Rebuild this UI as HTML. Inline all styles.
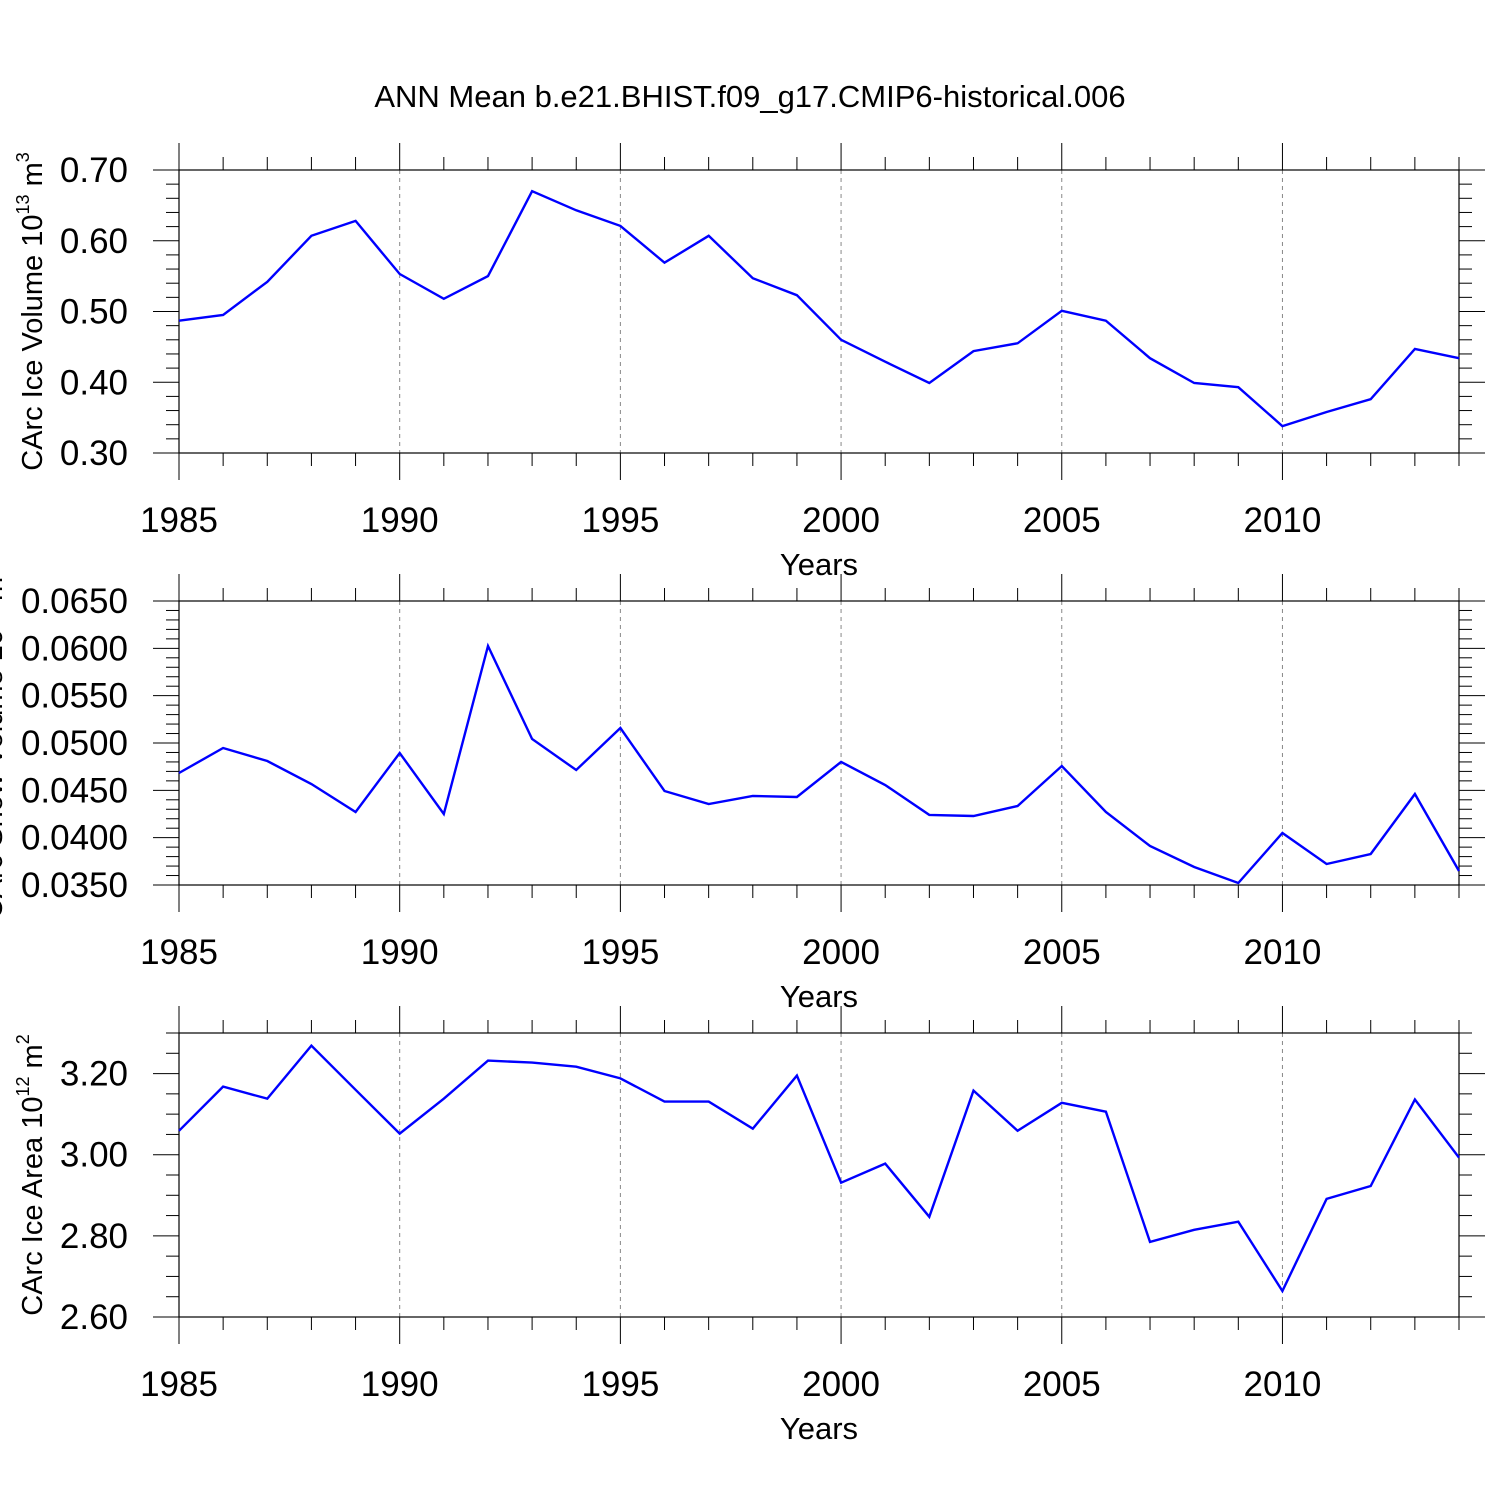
<!DOCTYPE html>
<html><head><meta charset="utf-8"><style>
html,body{margin:0;padding:0;background:#fff;}
svg{display:block;font-family:"Liberation Sans",sans-serif;}
</style></head><body>
<svg id="chart" width="1500" height="1500" viewBox="0 0 1500 1500" xmlns="http://www.w3.org/2000/svg">
<text x="750" y="107" font-size="31" text-anchor="middle">ANN Mean b.e21.BHIST.f09_g17.CMIP6-historical.006</text>
</svg>
<script>
const years = [1985,1986,1987,1988,1989,1990,1991,1992,1993,1994,1995,1996,1997,1998,1999,2000,2001,2002,2003,2004,2005,2006,2007,2008,2009,2010,2011,2012,2013,2014];
const iceVolume = [0.487,0.495,0.542,0.607,0.628,0.553,0.518,0.550,0.670,0.643,0.621,0.569,0.607,0.547,0.523,0.460,0.429,0.399,0.444,0.455,0.501,0.487,0.434,0.399,0.393,0.338,0.358,0.376,0.447,0.434];
const snowVolume = [0.04683,0.04947,0.0481,0.04567,0.04271,0.04894,0.0425,0.06025,0.05042,0.04715,0.05158,0.04493,0.04356,0.0444,0.0443,0.048,0.04556,0.0424,0.04229,0.04334,0.04757,0.04271,0.03912,0.0369,0.03521,0.04049,0.03722,0.03827,0.04461,0.03648];
const iceArea = [3.059,3.168,3.138,3.269,3.160,3.052,3.138,3.232,3.227,3.217,3.188,3.131,3.131,3.064,3.195,2.931,2.978,2.847,3.158,3.059,3.128,3.106,2.785,2.815,2.835,2.664,2.891,2.923,3.136,2.993];
const xTickLabels = [1985,1990,1995,2000,2005,2010];
const volTicks = [0.30,0.40,0.50,0.60,0.70];
const snowTicks = [0.035,0.040,0.045,0.050,0.055,0.060,0.065];
const areaTicks = [2.60,2.80,3.00,3.20];

const NS="http://www.w3.org/2000/svg";
const svg=document.getElementById('chart');
function el(tag,attrs,parent){const e=document.createElementNS(NS,tag);for(const k in attrs)e.setAttribute(k,attrs[k]);(parent||svg).appendChild(e);return e;}
const X0=179,X1=1459;
function xs(yr){return X0+(yr-1985)*(X1-X0)/29;}

const panels=[
 {name:'ice-volume',top:170,bot:453,min:0.30,max:0.70,data:iceVolume,ticks:volTicks,minor:0.02,dec:2,title:'CArc Ice Volume 10',sup:'13',unit:' m',usup:'3',tx:42},
 {name:'snow-volume',top:601,bot:885,min:0.035,max:0.065,data:snowVolume,ticks:snowTicks,minor:0.001,dec:4,title:'CArc Snow Volume 10',sup:'13',unit:' m',usup:'3',tx:2},
 {name:'ice-area',top:1033,bot:1317,min:2.60,max:3.30,data:iceArea,ticks:areaTicks,minor:0.05,dec:2,title:'CArc Ice Area 10',sup:'12',unit:' m',usup:'2',tx:42}
];
panels.forEach(p=>{
 const g=el('g',{});
 
 
 const ys=v=>p.bot-(v-p.min)*(p.bot-p.top)/(p.max-p.min);
 xTickLabels.forEach(yr=>{ if(yr>1985){const l=el('line',{x1:xs(yr),x2:xs(yr),y1:p.top,y2:p.bot,stroke:'#888','stroke-width':1,'stroke-dasharray':'4,4'},g);
  
  }});
 for(let yr=1985;yr<=2014;yr++){
  const major=(yr%5===0);const x=xs(yr);const len=major?27:13;
  el('line',{x1:x,x2:x,y1:p.top-len,y2:p.top,stroke:'#000','stroke-width':1},g);
  el('line',{x1:x,x2:x,y1:p.bot,y2:p.bot+len,stroke:'#000','stroke-width':1},g);
 }
 const n=Math.round((p.max-p.min)/p.minor);
 for(let i=0;i<=n;i++){
  const v=p.min+i*p.minor;const y=ys(v);
  const major=p.ticks.some(t=>Math.abs(t-v)<p.minor/10);const len=major?26:13;
  el('line',{x1:X0-len,x2:X0,y1:y,y2:y,stroke:'#000','stroke-width':1},g);
  el('line',{x1:X1,x2:X1+len,y1:y,y2:y,stroke:'#000','stroke-width':1},g);
 }
 const fr=el('rect',{x:X0,y:p.top,width:X1-X0,height:p.bot-p.top,fill:'none',stroke:'#000','stroke-width':1.2},g);
 
 
 p.ticks.forEach(t=>{const tx=el('text',{x:128,y:ys(t)+12,'font-size':35,'text-anchor':'end'},g);tx.textContent=t.toFixed(p.dec);
  
  });
 xTickLabels.forEach(yr=>{const tx=el('text',{x:xs(yr),y:p.bot+79,'font-size':35,'text-anchor':'middle'},g);tx.textContent=yr;
  
  });
 const xt=el('text',{x:819,y:p.bot+122,'font-size':31,'text-anchor':'middle'},g);xt.textContent='Years';
 
 
 const cy=(p.top+p.bot)/2;
 const yt=el('text',{x:0,y:0,'font-size':29,'text-anchor':'middle',transform:`translate(${p.tx},${cy}) rotate(-90)`},g);
 
 
 const t1=el('tspan',{},yt);t1.textContent=p.title;
 const t2=el('tspan',{dy:-13,'font-size':18},yt);t2.textContent=p.sup;
 const t3=el('tspan',{dy:13},yt);t3.textContent=p.unit;
 const t4=el('tspan',{dy:-13,'font-size':18},yt);t4.textContent=p.usup;
 const pts=p.data.map((v,i)=>xs(years[i]).toFixed(1)+','+ys(v).toFixed(1)).join(' ');
 const pl=el('polyline',{points:pts,fill:'none',stroke:'#0000ff','stroke-width':2.4,'stroke-linejoin':'miter'},g);
 
 
});
</script>
</body></html>
